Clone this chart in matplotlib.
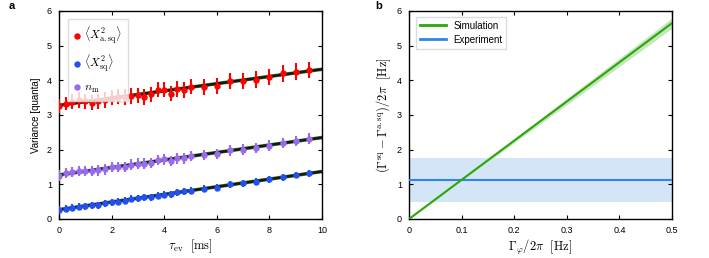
import numpy as np
import matplotlib
matplotlib.use("Agg")
import matplotlib.pyplot as plt
from matplotlib.lines import Line2D

plt.rcParams['font.family'] = ['Liberation Sans', 'DejaVu Sans']
plt.rcParams['mathtext.fontset'] = 'cm'

# ---- Panel a data ----
tau = [0, 0.25, 0.5, 0.75, 1, 1.25, 1.5, 1.75, 2, 2.25, 2.5, 2.75, 3, 3.25, 3.5, 3.75, 4, 4.25,
       4.5, 4.75, 5, 5.5, 6, 6.5, 7, 7.5, 8, 8.5, 9, 9.5]
x_asq = [3.25, 3.33, 3.38, 3.43, 3.40, 3.35, 3.40, 3.43, 3.50, 3.53, 3.52, 3.55, 3.57, 3.52, 3.60,
         3.73, 3.73, 3.62, 3.75, 3.72, 3.82, 3.82, 3.85, 3.98, 3.98, 4.02, 4.10, 4.20, 4.25, 4.30]
x_asq_err = [0.2, 0.2, 0.22, 0.22, 0.22, 0.22, 0.22, 0.22, 0.22, 0.22, 0.22, 0.22, 0.22, 0.22, 0.22,
             0.22, 0.22, 0.22, 0.22, 0.22, 0.22, 0.23, 0.23, 0.24, 0.24, 0.24, 0.24, 0.24, 0.24, 0.24]
n_m = [1.25, 1.32, 1.35, 1.38, 1.38, 1.38, 1.40, 1.43, 1.50, 1.50, 1.50, 1.57, 1.60, 1.60, 1.62,
       1.70, 1.72, 1.68, 1.75, 1.75, 1.82, 1.85, 1.88, 1.98, 2.00, 2.05, 2.12, 2.20, 2.25, 2.32]
n_m_err = [0.15] * 30
x_sq = [0.27, 0.30, 0.32, 0.35, 0.37, 0.40, 0.40, 0.45, 0.48, 0.50, 0.53, 0.58, 0.60, 0.63, 0.63,
        0.67, 0.70, 0.72, 0.77, 0.80, 0.82, 0.87, 0.90, 1.00, 1.03, 1.08, 1.15, 1.20, 1.27, 1.32]
x_sq_err = [0.1] * 30
fit_x = [0, 10]
fit_asq = [3.28, 4.32]
fit_nm = [1.27, 2.35]
fit_sq = [0.27, 1.37]

# ---- Panel b data ----
gphi = [0, 0.5]
sim = [0, 5.65]
sim_lo = [0, 5.50]
sim_hi = [0, 5.80]
exp_val = 1.12
exp_lo = 0.50
exp_hi = 1.75

red = '#ff0000'
blue = '#2350f0'
purple = '#9b6bef'
green = '#2aa80a'
lblue = '#2d86e8'

fig = plt.figure(figsize=(7.09, 2.58), dpi=100)
axa = fig.add_axes([59/709, 1-219/258, 263/709, 208/258])
axb = fig.add_axes([409/709, 1-219/258, 263/709, 208/258])

fitc = '#101a10'
for y in (fit_asq, fit_nm, fit_sq):
    axa.plot(fit_x, y, color='#4a7a3a', lw=2.6, zorder=1, solid_capstyle='butt')
    axa.plot(fit_x, y, color=fitc, lw=1.8, zorder=2, solid_capstyle='butt')

kw = dict(fmt='o', ms=3.6, elinewidth=1.5, capsize=0, zorder=3)
axa.errorbar(tau, x_asq, yerr=x_asq_err, color=red, **kw)
axa.errorbar(tau, x_sq, yerr=x_sq_err, color=blue, **kw)
axa.errorbar(tau, n_m, yerr=n_m_err, color=purple, **kw)

axa.set_xlim(0, 10)
axa.set_ylim(0, 6)
axa.set_xticks([0, 2, 4, 6, 8, 10])
axa.set_yticks([0, 1, 2, 3, 4, 5, 6])
axa.set_xlabel(r'$\tau_{\rm ev}\ \ [\rm ms]$', fontsize=9, labelpad=2)
axa.set_ylabel('Variance [quanta]', fontsize=7, labelpad=4)
hs = [Line2D([], [], ls='none', marker='o', ms=3.6, color=c) for c in (red, blue, purple)]
ls = [r'$\langle X^2_{\rm a.sq}\rangle$', r'$\langle X^2_{\rm sq}\rangle$', r'$n_{\rm m}$']
leg = axa.legend(hs, ls, loc='upper left', fontsize=8.5, handlelength=0.6, handletextpad=0.3,
                 labelspacing=0.55, borderpad=0.5, frameon=True, fancybox=False,
                 bbox_to_anchor=(0.01, 0.99))
leg.get_frame().set_edgecolor('#cfd6d6')
leg.get_frame().set_linewidth(1.0)

# Panel b
axb.axhspan(exp_lo, exp_hi, color='#d4e5f8', lw=0, zorder=1)
axb.fill_between(gphi, sim_lo, sim_hi, color='#c6e6bd', lw=0, zorder=2)
axb.axhline(exp_val, color=lblue, lw=1.5, zorder=3, label='Experiment')
axb.plot(gphi, sim, color=green, lw=1.5, zorder=4, label='Simulation')
axb.set_xlim(0, 0.5)
axb.set_ylim(0, 6)
axb.set_xticks([0, 0.1, 0.2, 0.3, 0.4, 0.5])
axb.set_xticklabels(['0', '0.1', '0.2', '0.3', '0.4', '0.5'])
axb.set_yticks([0, 1, 2, 3, 4, 5, 6])
axb.set_xlabel(r'$\Gamma_{\varphi}/2\pi\ \ [\rm Hz]$', fontsize=9, labelpad=2)
axb.set_ylabel(r'$(\Gamma^{\rm sq}-\Gamma^{\rm a.sq})/2\pi\ \ [\rm Hz]$', fontsize=9, labelpad=3)
handles, labels = axb.get_legend_handles_labels()
legb = axb.legend(handles[::-1], labels[::-1], loc='upper left', fontsize=7, handlelength=2.6,
                  handletextpad=0.8, labelspacing=0.4, borderpad=0.4, frameon=True, fancybox=False,
                  bbox_to_anchor=(0.01, 0.995))
legb.get_frame().set_edgecolor('#cfd6d6')
legb.get_frame().set_linewidth(1.0)
for l in legb.get_lines():
    l.set_linewidth(2.0)

for ax in (axa, axb):
    ax.tick_params(direction='in', top=True, right=True, length=3, width=0.8, labelsize=6.5, pad=5)
    for s in ax.spines.values():
        s.set_linewidth(1.0)

fig.text(9/709, 1-6/258, 'a', fontsize=8, fontweight='bold', va='center', ha='left')
fig.text(375/709, 1-6/258, 'b', fontsize=8, fontweight='bold', va='center', ha='left')

fig.savefig('out.png', dpi=100)
